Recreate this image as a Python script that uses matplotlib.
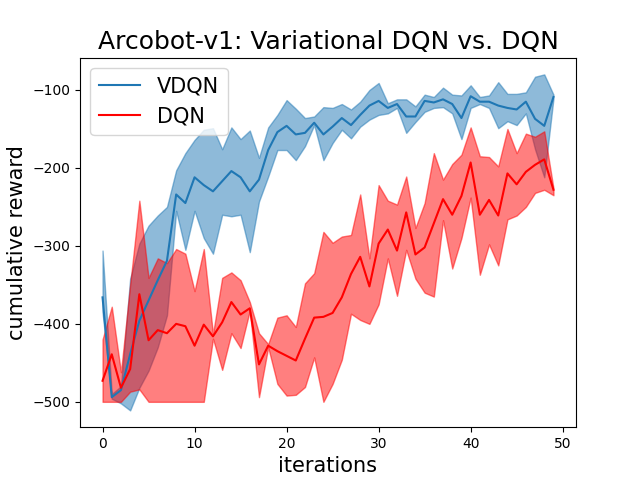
import numpy as np
import matplotlib
matplotlib.use('Agg')
import matplotlib.pyplot as plt

# values
iterations = np.arange(50)

vdqn_mean = [-366, -494, -485, -439, -396, -370, -344, -319, -234, -245,
             -212, -222, -230, -217, -204, -212, -230, -215, -177, -154,
             -146, -157, -155, -142, -157, -147, -136, -145, -132, -120,
             -114, -123, -118, -134, -134, -114, -116, -112, -118, -136,
             -108, -115, -115, -120, -123, -125, -115, -137, -146, -109]
vdqn_upper = [-306, -490, -480, -342, -297, -274, -261, -250, -203, -181,
              -164, -151, -149, -176, -148, -163, -152, -187, -148, -132,
              -113, -124, -136, -134, -122, -123, -118, -125, -115, -100,
              -91, -117, -112, -112, -121, -106, -109, -97, -106, -107,
              -94, -109, -107, -90, -105, -105, -103, -83, -80, -106]
vdqn_lower = [-385, -496, -502, -511, -482, -460, -430, -389, -255, -305,
              -255, -290, -310, -260, -262, -260, -308, -243, -211, -177,
              -177, -190, -172, -145, -190, -168, -151, -162, -147, -138,
              -132, -130, -123, -155, -141, -128, -123, -122, -130, -163,
              -123, -118, -123, -149, -140, -145, -130, -176, -212, -111]

dqn_mean = [-473, -439, -482, -458, -362, -421, -408, -412, -400, -403,
            -428, -401, -416, -398, -372, -388, -380, -452, -428, -435,
            -441, -447, -419, -392, -391, -386, -366, -336, -314, -352,
            -297, -279, -306, -257, -311, -302, -271, -240, -260, -236,
            -193, -260, -241, -261, -207, -221, -205, -196, -189, -228]
dqn_upper = [-420, -378, -462, -350, -242, -341, -316, -322, -304, -310,
             -358, -304, -413, -341, -334, -344, -372, -412, -426, -392,
             -389, -404, -348, -335, -282, -296, -288, -286, -234, -316,
             -222, -242, -247, -211, -277, -245, -181, -215, -195, -183,
             -148, -185, -186, -198, -150, -181, -156, -160, -153, -226]
dqn_lower = [-500, -500, -500, -487, -484, -500, -500, -500, -500, -500,
             -500, -500, -419, -459, -412, -431, -383, -494, -430, -477,
             -492, -491, -481, -443, -500, -477, -446, -387, -395, -400,
             -375, -316, -364, -305, -342, -360, -365, -267, -329, -290,
             -238, -337, -298, -325, -266, -261, -250, -232, -228, -235]

fig, ax = plt.subplots(figsize=(6.4, 4.8), dpi=100)

ax.plot(iterations, vdqn_mean, color='tab:blue', label='VDQN')
ax.fill_between(iterations, vdqn_lower, vdqn_upper, color='tab:blue', alpha=0.5)
ax.plot(iterations, dqn_mean, color='red', label='DQN')
ax.fill_between(iterations, dqn_lower, dqn_upper, color='red', alpha=0.5)

ax.set_title('Arcobot-v1: Variational DQN vs. DQN', fontsize=18)
ax.set_xlabel('iterations', fontsize=15)
ax.set_ylabel('cumulative reward', fontsize=15)
ax.legend(loc='upper left', fontsize=15)

fig.savefig('out.png')
